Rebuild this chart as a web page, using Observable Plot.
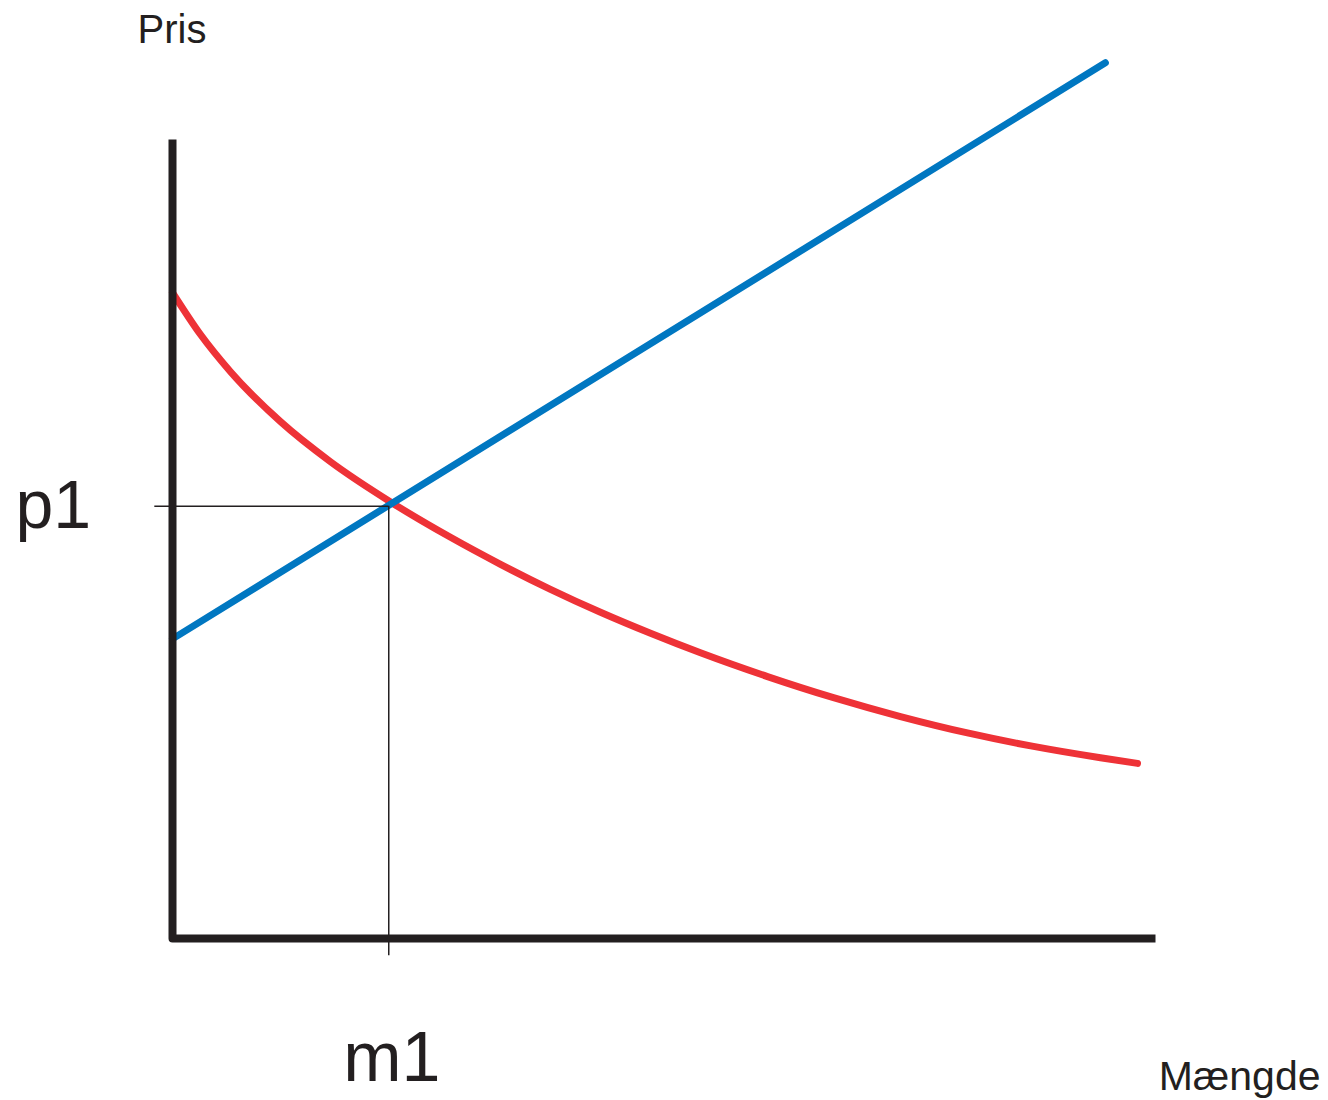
<!DOCTYPE html>
<html>
<head>
<meta charset="utf-8">
<script src="https://cdn.jsdelivr.net/npm/d3@7"></script>
<script src="https://cdn.jsdelivr.net/npm/@observablehq/plot@0.6"></script>
<style>
  html, body { margin: 0; padding: 0; background: #fff; }
  #chart svg { display: block; }
</style>
</head>
<body>
<div id="chart"></div>
<script>
// Demand curve (red): quantity vs price
const demandQuantity = [0, 2.85, 5.90, 10.99, 16.07, 22.18, 28.28, 33.37, 38.45, 43.54, 48.63, 53.71, 60.53, 67.24, 74.06, 80.87, 87.59, 94.40, 98.17];
const demandPrice    = [80.85, 75.59, 70.94, 64.68, 59.67, 54.64, 50.21, 46.83, 43.70, 40.83, 38.20, 35.76, 32.78, 30.14, 27.78, 25.73, 24.04, 22.62, 21.92];

// Supply line (blue)
const supplyQuantity = [0, 94.9];
const supplyPrice    = [37.5, 109.6];

// Axes extents
const axisQuantity = [0, 0, 100];
const axisPrice    = [100, 0, 0];

// Equilibrium
const m1 = 22.0;
const p1 = 54.1;
const guideOverhang = 1.8;

// Labels
const yLabel = "Pris";
const xLabel = "Mængde";
const pLabel = "p1";
const mLabel = "m1";

const demand = demandQuantity.map((q, i) => ({q, p: demandPrice[i]}));
const supply = supplyQuantity.map((q, i) => ({q, p: supplyPrice[i]}));
const axes = axisQuantity.map((q, i) => ({q, p: axisPrice[i]}));

const font = "'Liberation Sans', Arial, Helvetica, sans-serif";

const chart = Plot.plot({
  width: 1328,
  height: 1100,
  marginLeft: 172,
  marginRight: 173,
  marginTop: 139,
  marginBottom: 162,
  x: {domain: [0, 100], axis: null},
  y: {domain: [0, 100], axis: null},
  style: {background: "#fff", fontFamily: font, overflow: "visible"},
  marks: [
    Plot.line(demand, {x: "q", y: "p", stroke: "#EE3237", strokeWidth: 7, curve: "monotone-x", clip: false}),
    Plot.line(supply, {x: "q", y: "p", stroke: "#0077C1", strokeWidth: 7, clip: false}),
    Plot.ruleY([p1], {x1: -guideOverhang, x2: m1, stroke: "#231F20", strokeWidth: 1.5}),
    Plot.ruleX([m1], {y1: p1, y2: -guideOverhang * 1.2, stroke: "#231F20", strokeWidth: 1.5}),
    Plot.line(axes, {x: "q", y: "p", stroke: "#231F20", strokeWidth: 8, strokeLinejoin: "round", strokeLinecap: "butt"}),
    Plot.text([pLabel], {y: p1, frameAnchor: "left", textAnchor: "start", dx: -157, dy: 0, fontSize: 68, fill: "#231F20", fontFamily: font}),
    Plot.text([mLabel], {x: m1, frameAnchor: "bottom", textAnchor: "middle", dx: 3, dy: 142, fontSize: 70, fill: "#231F20", fontFamily: font}),
    Plot.text([yLabel], {frameAnchor: "top-left", textAnchor: "start", dx: -35, dy: -125, fontSize: 40, fill: "#231F20", fontFamily: font}),
    Plot.text([xLabel], {frameAnchor: "bottom-right", textAnchor: "end", dx: 165, dy: 151, fontSize: 41, fill: "#231F20", fontFamily: font})
  ]
});
document.getElementById("chart").appendChild(chart);
</script>
</body>
</html>
